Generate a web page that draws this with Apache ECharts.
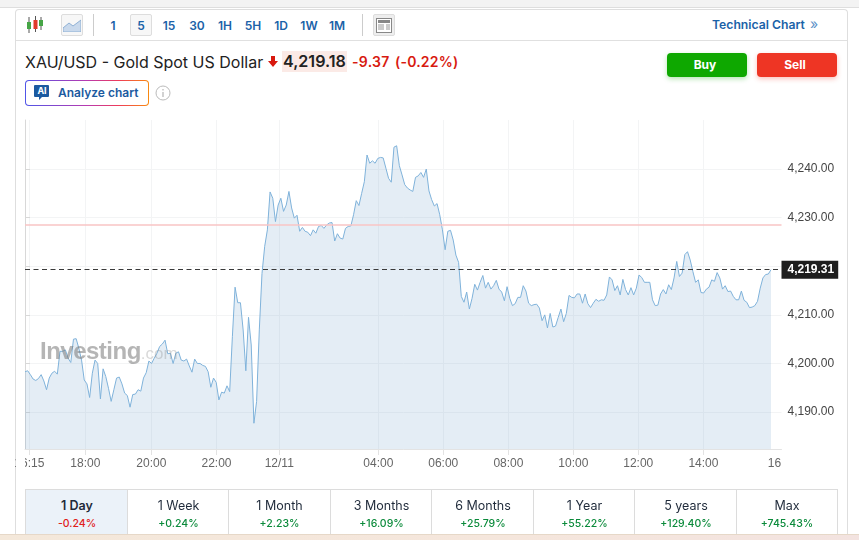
<!DOCTYPE html>
<html><head><meta charset="utf-8">
<style>
html,body{margin:0;padding:0;width:859px;height:540px;overflow:hidden;background:#fff;font-family:Inter,"Noto Sans",sans-serif}
.a{position:absolute;white-space:nowrap}
#chart{position:absolute;left:0;top:0;width:859px;height:540px}
.tf{position:absolute;top:17px;width:22px;height:17px;line-height:17px;text-align:center;font-size:12px;font-weight:600;color:#1b62a8}
.tab{position:absolute;top:489px;height:45px;text-align:center;border-left:1px solid #dcdcdc;box-sizing:border-box;color:#1f2a3a}
.tab b{display:block;font-weight:400;font-size:12.5px;margin-top:8px;line-height:16px}
.tab i{display:block;font-style:normal;font-size:10.5px;font-weight:500;line-height:14px;margin-top:3px;color:#0a8a3a}
</style></head><body>
<div class="a" style="left:0;top:0;width:859px;height:7px;background:#f3f3f3;border-bottom:1px solid #dedede"></div>
<div class="a" style="left:15px;top:9px;width:833px;height:530px;border:1px solid #dedede;border-bottom:0;border-radius:4px 4px 0 0;box-sizing:border-box"></div>
<div class="a" style="left:16px;top:40px;width:831px;height:1px;background:#e0e0e0"></div>
<svg class="a" style="left:25px;top:15px" width="20" height="20"><g stroke="#555" stroke-width="1"><path d="M4 2v16M10.500 1v16M16 2v13"/></g><rect x="2" y="7" width="4" height="7" fill="#46a546"/><rect x="8.500" y="5" width="4" height="9" fill="#e0392b"/><rect x="14" y="5" width="4" height="6" fill="#46a546"/></svg>
<div class="a" style="left:61px;top:14px;width:22px;height:22px;border:1px solid #ddd;border-radius:2px;background:#f7f7f7;box-sizing:border-box"></div>
<svg class="a" style="left:63px;top:19px" width="18" height="13"><path d="M0 9L6 4L10 7L18 1V13H0Z" fill="#c9d9ec" stroke="#8fb0d4"/></svg>
<div class="a" style="left:93px;top:14px;width:1px;height:22px;background:#ccc"></div>
<div class="a" style="left:130px;top:14px;width:22px;height:22px;border:1px solid #ddd;border-radius:2px;background:#f7f7f7;box-sizing:border-box"></div>
<div class="tf" style="left:102px">1</div><div class="tf" style="left:130px">5</div><div class="tf" style="left:158px">15</div><div class="tf" style="left:186px">30</div><div class="tf" style="left:214px">1H</div><div class="tf" style="left:242px">5H</div><div class="tf" style="left:270px">1D</div><div class="tf" style="left:298px">1W</div><div class="tf" style="left:326px">1M</div>
<div class="a" style="left:362px;top:14px;width:1px;height:22px;background:#ccc"></div>
<div class="a" style="left:373px;top:14px;width:22px;height:22px;border:1px solid #ddd;border-radius:2px;background:#eee;box-sizing:border-box"></div>
<svg class="a" style="left:376px;top:18px" width="16" height="15"><rect x=".5" y=".5" width="15" height="14" fill="#fff" stroke="#888"/><rect x="2" y="2" width="12" height="3" fill="#888"/><path d="M2 7h6M2 9h6M2 11h6M10 7h4M10 9h4M10 11h4" stroke="#999"/></svg>
<div class="a" style="left:712px;top:17px;line-height:16px;font-size:12.2px;font-weight:600;color:#1b62a8">Technical Chart</div>
<div class="a" style="left:810px;top:15px;line-height:18px;font-size:14px;color:#5b8fc7">»</div>
<div class="a" style="left:25px;top:52px;line-height:20px;font-size:16px;color:#222">XAU/USD - Gold Spot US Dollar</div>
<svg class="a" style="left:268px;top:56px" width="10" height="11"><path d="M3 0H7V5H10L5 11L0 5H3Z" fill="#d8190f"/></svg>
<div class="a" style="left:282px;top:51px;height:21px;line-height:21px;padding:0 1px;background:#fbeae6;font-size:16.1px;font-weight:600;color:#222">4,219.18</div>
<div class="a" style="left:352px;top:52px;line-height:20px;font-size:14px;font-weight:600;letter-spacing:.3px;color:#d81a10">-9.37</div>
<div class="a" style="left:395px;top:52px;line-height:20px;font-size:14px;font-weight:600;letter-spacing:.2px;color:#d81a10">(-0.22%)</div>
<div class="a" style="left:667px;top:53px;width:76px;padding-right:4px;height:24px;line-height:24px;border-radius:4px;background:#0ea800;color:#fff;text-align:center;font-size:12px;font-weight:700;box-shadow:0 2px 5px rgba(14,168,0,.3)">Buy</div>
<div class="a" style="left:757px;top:53px;width:76px;padding-right:4px;height:24px;line-height:24px;border-radius:4px;background:#ee3524;color:#fff;text-align:center;font-size:12px;font-weight:700;box-shadow:0 2px 5px rgba(238,53,36,.3)">Sell</div>
<div class="a" style="left:25px;top:80px;width:124px;height:26px;border-radius:4px;background:linear-gradient(90deg,#4f55e8,#b83ab0 50%,#ee3b5b 75%,#f98a10)"></div>
<div class="a" style="left:26px;top:81px;width:122px;height:24px;border-radius:3px;background:#fff"></div>
<svg class="a" style="left:34px;top:85px" width="16" height="16"><path d="M1 0H14Q15 0 15 1V11Q15 12 14 12H8L5 15V12H1Q0 12 0 11V1Q0 0 1 0Z" fill="#1b5aa0"/></svg>
<div class="a" style="left:35px;top:85px;width:14px;line-height:12px;text-align:center;font-size:9px;font-weight:700;color:#fff">AI</div>
<div class="a" style="left:58px;top:85px;line-height:16px;font-size:12px;font-weight:600;color:#1b5aa0">Analyze chart</div>
<svg class="a" style="left:155px;top:85px" width="16" height="16"><circle cx="8" cy="8" r="7" fill="none" stroke="#bbb"/><path d="M8 7v5M8 4v1.500" stroke="#bbb" stroke-width="1.300"/></svg>

<div id="chart"></div>

<div class="a" style="left:16px;top:455px;width:9px;height:16px;background:#fff"></div>
<div class="a" id="wm" style="left:40px;top:336px;line-height:30px;font-family:'Liberation Sans',sans-serif;font-size:24px;font-weight:700;letter-spacing:-.5px;color:rgba(120,120,120,.55)">Investing<span style="font-size:17px;font-weight:400;letter-spacing:0;color:rgba(130,130,130,.3)">.com</span></div>

<div class="tab" style="left:25px;width:103px;background:#ebf2f9;border-top:1px solid #dcdcdc"><b style="font-weight:600">1 Day</b><i style="color:#e0201a">-0.24%</i></div>
<div class="tab" style="left:127px;width:102px;border-top:1px solid #dcdcdc"><b>1 Week</b><i>+0.24%</i></div>
<div class="tab" style="left:228px;width:102px;border-top:1px solid #dcdcdc"><b>1 Month</b><i>+2.23%</i></div>
<div class="tab" style="left:330px;width:102px;border-top:1px solid #dcdcdc"><b>3 Months</b><i>+16.09%</i></div>
<div class="tab" style="left:431px;width:103px;border-top:1px solid #dcdcdc"><b>6 Months</b><i>+25.79%</i></div>
<div class="tab" style="left:533px;width:102px;border-top:1px solid #dcdcdc"><b>1 Year</b><i>+55.22%</i></div>
<div class="tab" style="left:634px;width:103px;border-top:1px solid #dcdcdc"><b>5 years</b><i>+129.40%</i></div>
<div class="tab" style="left:736px;width:102px;border-top:1px solid #dcdcdc;border-right:1px solid #dcdcdc"><b>Max</b><i>+745.43%</i></div>
<div class="a" style="left:0;top:534px;width:859px;height:6px;background:linear-gradient(90deg,#f4e8da,#f5e6dc 60%,#f3e3e0);border-top:1px solid #e6d8c8;box-sizing:border-box"></div>

<script src="https://cdn.jsdelivr.net/npm/echarts@6/dist/echarts.min.js"></script>
<script>
const pricesEvening = [4198.3,4198.5,4197.7,4196.8,4196.5,4196.9,4197.7,4196.4,4194.6,4197.0,4198.0,4198.4,4197.8,4202.5,4202.5,4202.8,4201.1,4200.2,4205.0,4205.1,4203.1,4200.7,4196.6,4195.8,4193.0,4198.0,4200.7,4200.0,4192.7,4198.9,4197.3,4194.9,4192.2,4194.6,4197.0,4197.2,4195.8,4193.9,4193.4,4191.0,4193.6,4193.7,4194.6,4194.3,4197.0,4198.1,4200.5,4200.0,4201.1,4202.1,4203.5,4204.0,4204.8,4202.0,4202.1,4200.0,4202.1,4202.4,4200.7,4200.5,4200.9,4199.5,4198.2,4200.9,4200.0,4200.0,4199.6,4199.4,4198.3,4195.1,4197.0,4196.1,4192.5,4194.1,4193.9,4195.4,4194.2,4205.5,4215.7,4212.5,4212.5,4206.9,4198.5,4209.5,4203.8,4187.7,4192.2,4206.9,4218.5];
const pricesNight = [4224.1,4227.5,4235.3,4234.0,4229.2,4232.6,4234.0,4231.3,4232.6,4235.4,4232.0,4229.9,4230.5,4227.2,4228.0,4227.2,4227.0,4226.3,4227.5,4226.8,4228.2,4228.4,4227.8,4228.5,4228.9,4229.0,4225.2,4226.7,4225.8,4225.6,4227.8,4228.2,4228.3,4230.6,4233.5,4232.5,4235.0,4237.4,4242.9,4241.2,4241.7,4241.2,4242.2,4242.4,4242.3,4240.2,4238.1,4237.3,4244.5,4244.8,4240.7,4238.8,4236.8,4236.1,4235.7,4235.4,4238.3,4238.6,4239.3,4238.3,4240.0,4235.5,4233.7,4232.4,4232.9,4230.6,4227.5,4223.4,4227.2,4227.4,4225.4,4222.3,4220.8,4213.8,4212.6,4214.7,4211.2,4213.4,4216.3,4215.1,4216.7,4218.1,4215.5,4216.7,4215.3,4216.0,4217.1,4215.3,4214.7,4212.9,4215.8,4213.4,4211.9,4212.3,4213.6];
const pricesDay = [4213.6,4216.0,4214.9,4212.4,4211.9,4212.1,4212.2,4211.4,4208.8,4210.0,4207.3,4210.3,4207.5,4207.7,4209.5,4211.2,4208.6,4210.3,4214.0,4213.6,4213.5,4214.3,4214.3,4212.4,4214.3,4212.3,4211.5,4212.4,4213.2,4212.8,4213.1,4213.0,4214.1,4217.8,4217.2,4215.0,4216.0,4214.1,4217.3,4215.2,4214.1,4215.6,4214.1,4215.5,4218.2,4217.7,4216.7,4216.7,4216.7,4213.1,4211.9,4212.0,4214.3,4215.2,4214.3,4216.2,4215.2,4217.6,4221.0,4217.9,4218.6,4222.4,4223.0,4221.3,4218.9,4216.7,4217.2,4214.6,4214.5,4215.3,4215.7,4217.2,4216.9,4218.7,4217.6,4215.3,4216.0,4214.8,4214.9,4213.8,4213.1,4213.1,4214.9,4213.0,4212.6,4211.5,4211.6,4211.9,4212.8,4215.5,4217.6,4218.3,4218.4,4219.3];
const prices = pricesEvening.concat(pricesNight, pricesDay);
const lastPrice = 4219.31;
const refPrice = 4228.5;
const yTicks = [4190,4200,4210,4220,4230,4240];
const yLabelTicks = [4190,4200,4210,4230,4240];
const timeTickBars = [1.6,22.4,46.9,71.1,94.4,131.2,155.3,179.5,203.6,227.7,251.9];
const timeLabelBars = timeTickBars.concat([278.3]);
const timeLabels = ['16:15','18:00','20:00','22:00','12/11','04:00','06:00','08:00','10:00','12:00','14:00','16'];

const fmt = v => v.toLocaleString('en-US',{minimumFractionDigits:2,maximumFractionDigits:2});
const chart = echarts.init(document.getElementById('chart'), null, {renderer:'canvas'});
chart.setOption({
  animation:false,
  grid:{left:25,right:77.5,top:120,bottom:91,containLabel:false},
  xAxis:{type:'value',min:0,max:280.9,
    axisLine:{show:true,onZero:false,lineStyle:{color:'#e3e3e3'}},
    axisTick:{show:true,length:6,customValues:timeTickBars,lineStyle:{color:'#e3e3e3'}},
    splitLine:{show:true,lineStyle:{color:'#f3f4f5'}},
    axisLabel:{customValues:timeLabelBars,margin:9,fontFamily:'Liberation Sans',fontSize:12,color:'#666',
      formatter:v=>timeLabels[timeLabelBars.indexOf(v)]}},
  yAxis:{type:'value',position:'right',min:4182.4,max:4250.1,
    axisLine:{show:true,lineStyle:{color:'#d8d8d8'}},
    axisTick:{show:true,length:5,customValues:yTicks,lineStyle:{color:'#d8d8d8'}},
    splitLine:{show:true,lineStyle:{color:'#f3f4f5'}},
    axisLabel:{customValues:yLabelTicks,margin:6,padding:[2,0,0,0],fontFamily:'Liberation Sans',fontSize:12,color:'#444',formatter:fmt}},
  series:[{type:'line',data:prices.map((p,i)=>[i,p]),showSymbol:false,smooth:false,
    lineStyle:{color:'#7fb2da',width:1},
    areaStyle:{color:'rgba(120,165,205,0.2)',opacity:1},
    markLine:{silent:true,symbol:'none',animation:false,
      data:[
        {yAxis:refPrice,lineStyle:{color:'#f8c4c4',width:1.5,type:'solid'},label:{show:false}},
        {yAxis:lastPrice,lineStyle:{color:'#3a3a3a',width:1,type:[5,3.5]},
         label:{show:true,position:'end',distance:0,formatter:fmt(lastPrice),backgroundColor:'#1e1e1e',color:'#fff',
           fontFamily:'Liberation Sans',fontSize:12,fontWeight:'bold',padding:[3,4,3,6]}}
      ]}
  }]
});
</script>
</body></html>
